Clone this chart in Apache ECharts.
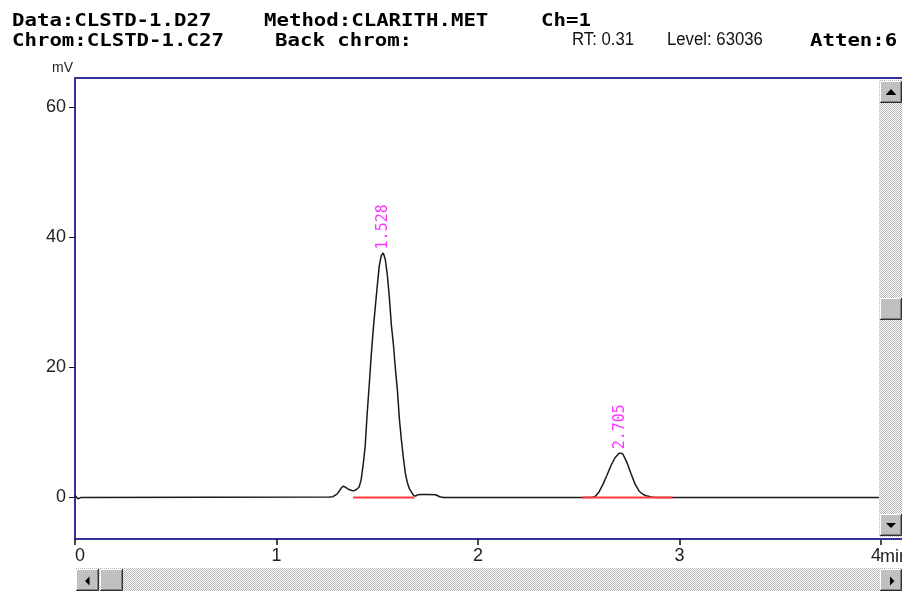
<!DOCTYPE html>
<html>
<head>
<meta charset="utf-8">
<script src="https://cdn.jsdelivr.net/npm/echarts@6/dist/echarts.min.js"></script>
<style>html,body{margin:0;padding:0;background:#fff;}#main{width:902px;height:591px;}</style>
</head>
<body>
<div id="main"></div>
<script>
// ---- data ----
const times = [0, 0.015, 0.03, 1.26, 1.28, 1.30, 1.31, 1.32, 1.33, 1.34, 1.35, 1.36, 1.37, 1.38, 1.39,
  1.40, 1.41, 1.42, 1.43, 1.44, 1.45, 1.46, 1.47, 1.48, 1.49, 1.50, 1.51, 1.52, 1.53, 1.54, 1.55,
  1.56, 1.57, 1.58, 1.59, 1.60, 1.61, 1.62, 1.63, 1.64, 1.65, 1.66, 1.67, 1.68, 1.69, 1.70, 1.72,
  1.75, 1.79, 1.81, 1.83, 2.56, 2.58, 2.60, 2.62, 2.64, 2.66, 2.68, 2.70, 2.71, 2.72, 2.74, 2.76,
  2.78, 2.80, 2.82, 2.84, 2.86, 2.88, 4.0];
const mv = [0.3, -0.2, 0, 0.05, 0.1, 0.5, 0.9, 1.4, 1.7, 1.6, 1.4, 1.2, 1.1, 1.0, 1.1,
  1.3, 1.6, 2.7, 5.0, 7.8, 12.9, 17.2, 21.8, 25.8, 29.2, 32.5, 35.6, 37.2, 37.6, 36.6, 34.2,
  30.8, 26.5, 23.6, 19.8, 16.5, 12.0, 8.8, 6.0, 3.6, 2.2, 1.3, 0.8, 0.3, 0.2, 0.4, 0.45,
  0.45, 0.4, 0.1, 0, 0, 0.1, 0.8, 2.0, 3.4, 4.9, 6.1, 6.8, 6.8, 6.6, 5.3, 3.6,
  2.0, 0.95, 0.45, 0.2, 0.05, 0, 0];
const peakTimes = [1.528, 2.705];
const peakHeights = [37.6, 6.85];
const peakLabels = ['1.528', '2.705'];
const baseline1 = [[1.38, 0], [1.685, 0]];
const baseline2 = [[2.518, 0], [2.965, 0]];
const xTicks = [0, 1, 2, 3, 4];
const yTicks = [0, 20, 40, 60];
const headerBold = [
  ['Data:CLSTD-1.D27', 12, 21], ['Method:CLARITH.MET', 264, 21], ['Ch=1', 541, 21],
  ['Chrom:CLSTD-1.C27', 12, 41.5], ['Back chrom:', 275, 41.5], ['Atten:6', 810, 41.5]
];
const headerPlain = [['RT: 0.31', 572, 40.5], ['Level: 63036', 667, 40.5]];

// ---- chart ----
const BLUE = '#333399';
const chart = echarts.init(document.getElementById('main'), null, {renderer: 'canvas'});

const pc = document.createElement('canvas');
pc.width = 2; pc.height = 2;
const pctx = pc.getContext('2d');
pctx.fillStyle = '#ffffff'; pctx.fillRect(0, 0, 2, 2);
pctx.fillStyle = '#b8b8b8'; pctx.fillRect(0, 0, 1, 1); pctx.fillRect(1, 1, 1, 1);
const checker = {image: pc, repeat: 'repeat'};

function button(x, y, w, h, tri) {
  const els = [
    {type: 'rect', shape: {x: x, y: y, width: w, height: h}, style: {fill: '#c0c0c0'}},
    {type: 'polyline', shape: {points: [[x + 0.5, y + h - 1], [x + 0.5, y + 0.5], [x + w - 1, y + 0.5]]}, style: {stroke: '#ffffff', lineWidth: 1, fill: null}},
    {type: 'polyline', shape: {points: [[x + 1, y + h - 1.5], [x + w - 1.5, y + h - 1.5], [x + w - 1.5, y + 1]]}, style: {stroke: '#808080', lineWidth: 1, fill: null}},
    {type: 'polyline', shape: {points: [[x, y + h - 0.5], [x + w - 0.5, y + h - 0.5], [x + w - 0.5, y]]}, style: {stroke: '#303030', lineWidth: 1, fill: null}}
  ];
  if (tri) els.push({type: 'polygon', shape: {points: tri}, style: {fill: '#000'}});
  return els;
}

const graphics = [];
// frame lines
graphics.push({type: 'line', shape: {x1: 74, y1: 78, x2: 902, y2: 78}, style: {stroke: BLUE, lineWidth: 2}});
graphics.push({type: 'line', shape: {x1: 880, y1: 539, x2: 902, y2: 539}, style: {stroke: BLUE, lineWidth: 2}});
// vertical scrollbar
graphics.push({type: 'rect', shape: {x: 879, y: 80, width: 23, height: 457}, style: {fill: checker}});
graphics.push(...button(880, 81, 22, 22, [[891, 89], [885.5, 95], [896.5, 95]]));
graphics.push(...button(880, 298, 22, 22, null));
graphics.push(...button(880, 514, 22, 22, [[886, 523], [896, 523], [891, 528]]));
// horizontal scrollbar
graphics.push({type: 'rect', shape: {x: 76, y: 568, width: 826, height: 23}, style: {fill: checker}});
graphics.push(...button(76, 569, 23, 22, [[85, 581], [89.5, 576.5], [89.5, 585.5]]));
graphics.push(...button(100, 569, 23, 22, null));
graphics.push(...button(880, 569, 22, 22, [[890, 576.5], [894.5, 581], [890, 585.5]]));
// texts
headerBold.forEach(h => graphics.push({type: 'text', x: h[1], y: h[2], scaleX: 1.15,
  style: {text: h[0], fill: '#000', font: 'bold 18px "DejaVu Sans Mono"', textAlign: 'left', textVerticalAlign: 'middle'}}));
headerPlain.forEach(h => graphics.push({type: 'text', x: h[1], y: h[2], scaleX: 0.93,
  style: {text: h[0], fill: '#111', font: '18px "Liberation Sans"', textAlign: 'left', textVerticalAlign: 'middle'}}));
graphics.push({type: 'text', x: 73, y: 68, style: {text: 'mV', fill: '#222', font: '14px "Liberation Sans"', textAlign: 'right', textVerticalAlign: 'middle'}});
graphics.push({type: 'text', x: 880, y: 557, style: {text: 'min', fill: '#222', font: '18px "Liberation Sans"', textAlign: 'left', textVerticalAlign: 'middle'}});
graphics.forEach(g => { g.z = 100; g.silent = true; });

chart.setOption({
  animation: false,
  backgroundColor: '#ffffff',
  grid: {left: 75, right: 21, top: 78, bottom: 52, containLabel: false},
  xAxis: {
    type: 'value', min: 0, max: 4, interval: 1,
    axisLine: {onZero: false, lineStyle: {color: BLUE, width: 2}},
    axisTick: {length: 6, lineStyle: {color: '#111', width: 1.5}, customValues: xTicks},
    axisLabel: {customValues: xTicks, fontSize: 18, fontFamily: 'Liberation Sans', color: '#222', margin: 8,
      alignMinLabel: 'left', alignMaxLabel: 'right'},
    splitLine: {show: false}
  },
  yAxis: {
    type: 'value', min: -6.4, max: 64.5,
    axisLine: {show: true, onZero: false, lineStyle: {color: BLUE, width: 2}},
    axisTick: {show: true, length: 6, lineStyle: {color: '#111', width: 1}, customValues: yTicks},
    axisLabel: {customValues: yTicks, fontSize: 18, fontFamily: 'Liberation Sans', color: '#222', margin: 9},
    splitLine: {show: false}
  },
  series: [
    {type: 'line', data: times.map((t, i) => [t, mv[i]]), symbol: 'none', smooth: false,
      lineStyle: {color: '#1a1a1a', width: 1.5}, z: 2},
    {type: 'line', data: baseline1, symbol: 'none', lineStyle: {color: '#ff3b3b', width: 2}, z: 3},
    {type: 'line', data: baseline2, symbol: 'none', lineStyle: {color: '#ff3b3b', width: 2}, z: 3},
    {type: 'scatter', data: peakTimes.map((t, i) => [t, peakHeights[i]]), symbolSize: 1,
      itemStyle: {color: 'rgba(0,0,0,0)'}, z: 4,
      label: {show: true, position: 'top', distance: 3, rotate: 90, align: 'left', verticalAlign: 'middle',
        formatter: p => peakLabels[p.dataIndex], color: '#ff00ff', fontFamily: 'DejaVu Sans Mono', fontSize: 15}}
  ],
  graphic: graphics
});
</script>
</body>
</html>
